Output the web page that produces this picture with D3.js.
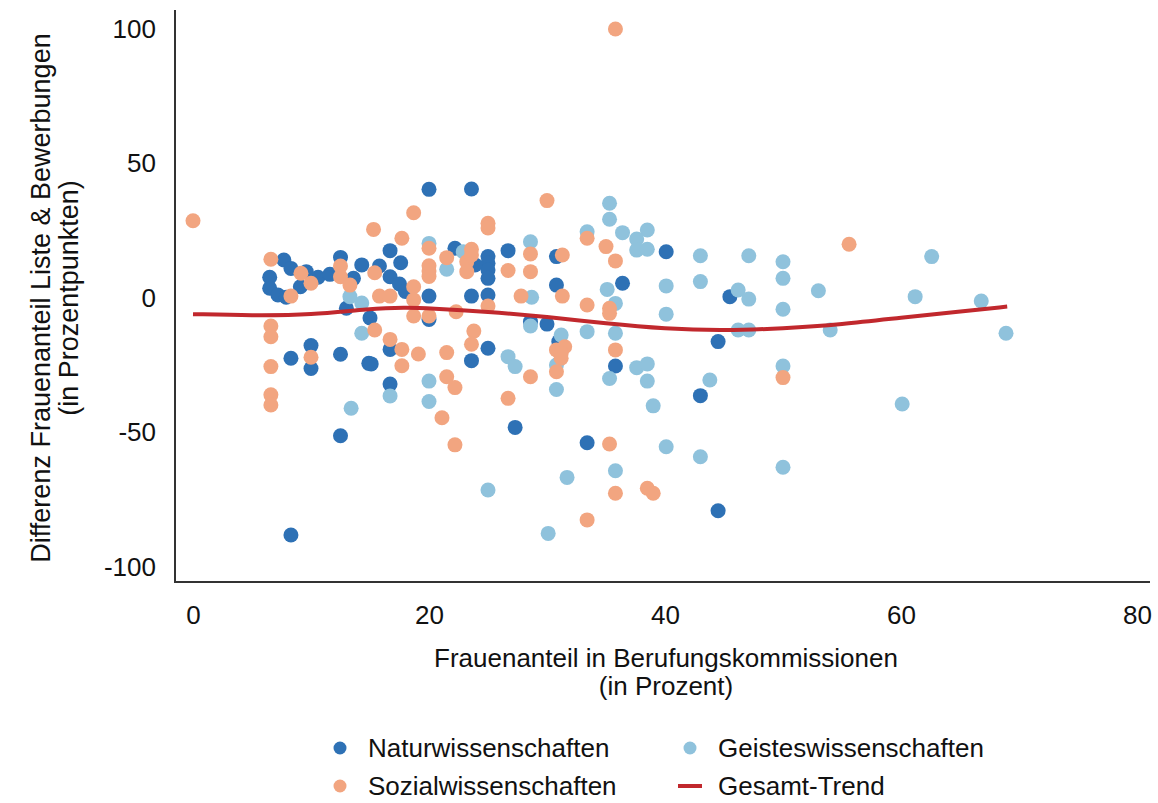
<!DOCTYPE html>
<html>
<head>
<meta charset="utf-8">
<script src="https://cdn.jsdelivr.net/npm/d3@7"></script>
<style>
  body { margin: 0; background: #fff; }
  text { font-family: "Liberation Sans", Arial, sans-serif; fill: #111; }
</style>
</head>
<body>
<div id="chart"></div>
<script>
// Data: [Frauenanteil Kommission, Differenz]
var natur = [
    [7.7,14.1],[8.3,11],[9.6,9.8],[6.5,7.7],[6.5,3.6],[7.2,1.1],[7.9,0.3],[9.1,4.2],[10.6,7.7],[11.6,8.8],
    [12.5,15.1],[13.6,7.3],[14.3,12.3],[13,-3.8],
    [10,-17.7],[10,-26.2],[8.3,-22.4],[12.5,-20.9],[14.9,-24.3],[12.5,-51.2],[8.3,-88.1],[15,-7.4],
    [20,40.4],[23.6,40.5],[16.7,17.6],[22.2,18.5],[26.7,17.6],[25,15.4],[25,12.9],[25,10.4],[25,7.3],[25,1.1],
    [30.8,15.4],[15.8,11.9],[17.6,13.1],[16.7,7.9],[17.5,5.2],[18,2.4],[20,0.7],[23.9,12.3],[23.6,0.7],[30.8,4.8],
    [20,-8],[28.6,-8.8],[30,-9.7],[16.7,-19.1],[15.1,-24.5],[25,-18.7],[23.6,-23.3],[16.7,-32],[27.3,-48.1],
    [40.1,17.2],[36.4,5.5],[45.5,0.5],
    [31,-16.2],[35.8,-25.3],[43,-36.3],[44.5,-16.2],[33.4,-53.8],[44.5,-79.1]
];
var geistes = [
    [13.3,0.5],[14.3,-1.9],[14.3,-13.1],[13.4,-41],
    [20,20.3],[22.9,17.2],[28.6,20.9],[21.5,10.7],[28.7,0.3],
    [28.6,-10.4],[26.7,-21.8],[27.3,-25.5],[16.7,-36.4],[20,-30.9],[20,-38.5],[25,-71.4],[30.1,-87.5],
    [31.7,-66.7],[30.8,-24.9],[30.8,-34],
    [35.3,35.2],[35.3,29.3],[33.4,24.6],[36.4,24.3],[38.5,25.3],[37.6,21.9],[37.6,17.8],[38.5,18.1],
    [43,15.7],[43,6.1],[35.1,3.2],[35.8,-2],[40.1,4.5],[40.1,-6],[46.2,3],
    [31.2,-13.8],[33.4,-12.5],[35.8,-13.1],[35.3,-29.9],[37.6,-25.9],[38.5,-24.5],[38.5,-30.9],[39,-40.1],
    [43.8,-30.5],[46.2,-11.9],[40.1,-55.3],[43,-59],[35.8,-64.2],
    [47.1,15.7],[50,13.5],[50,7.3],[62.6,15.4],[47.1,-0.4],[53,2.7],[61.2,0.5],[66.8,-1.1],[50,-4.2],
    [47.1,-11.9],[54,-11.9],[68.9,-13.1],
    [50,-25.3],[60.1,-39.4],[50,-62.9]
];
var sozial = [
    [0,28.7],[6.6,14.4],[9.15,9.2],[8.3,0.7],[10,5.5],[12.5,11.9],[12.5,7.9],[13.3,4.8],
    [6.6,-10.4],[6.6,-14.4],[10,-22],[6.6,-25.5],[6.6,-36],[6.6,-39.8],
    [30,36.2],[18.7,31.7],[25,27.8],[25,26],[15.3,25.5],[17.7,22.2],[20,18.5],[23.6,18.1],[28.6,16.4],
    [15.4,9.4],[18.7,4.2],[15.8,0.7],[16.7,0.7],[18.7,-0.7],[20,12],[20,10],[20,8],[21.5,15],[23.2,13.5],
    [23.2,9.8],[23.6,16],[25,-3],[26.7,10.2],[28.6,9.8],[27.8,0.7],[18.7,-6.7],[20,-6.7],[22.3,-5.1],
    [15.4,-11.9],[16.7,-15.4],[17.7,-19.1],[19.1,-20.8],[17.7,-25.2],[21.5,-20.3],[23.8,-12.3],[23.6,-17.2],
    [28.6,-29.3],[21.5,-29.3],[22.2,-33.3],[21.1,-44.5],[26.7,-37.3],[22.2,-54.6],[30.8,-19.3],
    [33.4,22.2],[35,19.1],[35.8,13.8],[31.3,16],[31.3,0.7],[33.4,-2.6],[35.3,-3.8],[35.3,-5.7],
    [31.5,-18.1],[31.2,-20.6],[31.2,-22.4],[30.8,-27.4],[35.8,-19.3],[35.3,-54.3],[35.8,-72.6],
    [38.5,-70.7],[39,-72.6],[33.4,-82.5],
    [55.6,20],[50,-29.6],[35.8,100]
];
var trend = [
    [0,-6],[5,-6.5],[10,-6.3],[15,-4],[18,-3.5],[20,-3.8],[25,-5.1],[30,-7],[35,-9.5],
    [40,-11.5],[45,-12.2],[50,-11.3],[55,-9.8],[60,-7.3],[65,-5],[69,-3.2]
];
var xTicks = [0, 20, 40, 60, 80];
var yTicks = [-100, -50, 0, 50, 100];

var colors = {nat: "#2e71b5", geist: "#8fc2dc", soz: "#f2a580", trend: "#c1282d"};

var width = 1158, height = 803;
var fs = "26px";
var svg = d3.select("#chart").append("svg")
    .attr("width", width)
    .attr("height", height);

//Scales
var x = d3.scaleLinear().domain([0, 80]).range([193, 1137]);
var y = d3.scaleLinear().domain([-100, 100]).range([567, 29]);

// axis lines (left + bottom only)
svg.append("line")
    .attr("x1", 175).attr("x2", 175).attr("y1", 10).attr("y2", 582)
    .attr("stroke", "#333").attr("stroke-width", 2);
svg.append("line")
    .attr("x1", 174).attr("x2", 1150).attr("y1", 582).attr("y2", 582)
    .attr("stroke", "#333").attr("stroke-width", 2);

// tick labels, no tick marks; plain hyphen for negatives
var fmt = function(d) { return String(d); };
var xAxis = d3.axisBottom(x).tickValues(xTicks).tickFormat(fmt).tickSize(0).tickPadding(0);
var gx = svg.append("g").attr("transform", "translate(0,606)").call(xAxis);
gx.select(".domain").remove();
gx.selectAll("text").style("font-size", fs).attr("dy", "0.71em");

var yAxis = d3.axisLeft(y).tickValues(yTicks).tickFormat(fmt).tickSize(0).tickPadding(0);
var gy = svg.append("g").attr("transform", "translate(156,0)").call(yAxis);
gy.select(".domain").remove();
gy.selectAll("text").style("font-size", fs);

// axis titles
svg.append("text")
    .attr("x", 666).attr("y", 667)
    .style("text-anchor", "middle").style("font-size", fs)
    .text("Frauenanteil in Berufungskommissionen");
svg.append("text")
    .attr("x", 666).attr("y", 695)
    .style("text-anchor", "middle").style("font-size", fs)
    .text("(in Prozent)");

svg.append("text")
    .attr("transform", "translate(50,298)rotate(-90)")
    .style("text-anchor", "middle").style("font-size", "27px")
    .text("Differenz Frauenanteil Liste & Bewerbungen");
svg.append("text")
    .attr("transform", "translate(78,298)rotate(-90)")
    .style("text-anchor", "middle").style("font-size", "27px")
    .text("(in Prozentpunkten)");

// points
function drawPoints(data, color) {
    svg.append("g")
        .selectAll("circle")
        .data(data)
        .enter()
        .append("circle")
        .attr("cx", function(d) { return x(d[0]); })
        .attr("cy", function(d) { return y(d[1]); })
        .attr("r", 7.5)
        .attr("fill", color);
}
drawPoints(natur, colors.nat);
drawPoints(geistes, colors.geist);
drawPoints(sozial, colors.soz);

// trend line
svg.append("path")
    .datum(trend)
    .attr("fill", "none")
    .attr("stroke", colors.trend)
    .attr("stroke-width", 4)
    .attr("d", d3.line()
        .curve(d3.curveBasis)
        .x(function(d) { return x(d[0]); })
        .y(function(d) { return y(d[1]); }));

// legend
var legend = [
    {label: "Naturwissenschaften", color: colors.nat, type: "dot", lx: 340, ly: 748},
    {label: "Geisteswissenschaften", color: colors.geist, type: "dot", lx: 690, ly: 748},
    {label: "Sozialwissenschaften", color: colors.soz, type: "dot", lx: 340, ly: 786},
    {label: "Gesamt-Trend", color: colors.trend, type: "line", lx: 690, ly: 786}
];
var lg = svg.append("g").selectAll("g").data(legend).enter().append("g")
    .attr("transform", function(d) { return "translate(" + d.lx + "," + d.ly + ")"; });
lg.filter(function(d) { return d.type === "dot"; })
    .append("circle").attr("r", 6.5).attr("fill", function(d) { return d.color; });
lg.filter(function(d) { return d.type === "line"; })
    .append("line").attr("x1", -12).attr("x2", 12)
    .attr("stroke", function(d) { return d.color; }).attr("stroke-width", 4);
lg.append("text")
    .attr("x", 28).attr("dy", "0.35em")
    .style("font-size", fs)
    .text(function(d) { return d.label; });
</script>
</body>
</html>
